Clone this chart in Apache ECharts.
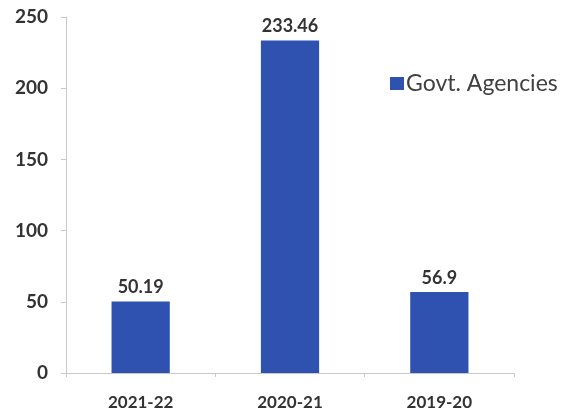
<!DOCTYPE html>
<html>
<head>
<meta charset="utf-8">
<script src="https://cdn.jsdelivr.net/npm/echarts@6/dist/echarts.min.js"></script>
<style>html,body{margin:0;padding:0;background:#fff;}#c{width:564px;height:416px;}</style>
</head>
<body>
<div id="c"></div>
<script>
var categories = ['2021-22', '2020-21', '2019-20'];
var seriesName = 'Govt. Agencies';
var values = [50.19, 233.46, 56.9];
var yTicks = [0, 50, 100, 150, 200, 250];

var chart = echarts.init(document.getElementById('c'));
chart.setOption({
  animation: false,
  backgroundColor: '#ffffff',
  textStyle: { fontFamily: 'Lato, "Open Sans", sans-serif' },
  grid: { left: 66, right: 50, top: 17, bottom: 43, containLabel: false },
  legend: {
    data: [seriesName],
    left: 385, top: 67,
    itemWidth: 14, itemHeight: 13, itemGap: 4,
    icon: 'rect',
    textStyle: { fontSize: 23, color: '#404040', fontFamily: 'Lato, sans-serif', padding: [0, 0, 0, -3] }
  },
  xAxis: {
    type: 'category',
    data: categories,
    axisLine: { lineStyle: { color: '#c8c8c8', width: 1 } },
    axisTick: { show: true, alignWithLabel: false, length: 4, lineStyle: { color: '#c8c8c8' } },
    axisLabel: { fontSize: 17, fontWeight: 'bold', color: '#333', margin: 21 },
    splitLine: { show: false }
  },
  yAxis: {
    type: 'value',
    min: yTicks[0], max: yTicks[yTicks.length - 1], interval: 50,
    axisLine: { show: true, lineStyle: { color: '#c8c8c8' } },
    axisTick: { show: true, length: 5, lineStyle: { color: '#c8c8c8' } },
    axisLabel: { fontSize: 19, fontWeight: 'bold', color: '#333', margin: 18 },
    splitLine: { show: false }
  },
  series: [{
    name: seriesName,
    type: 'bar',
    data: values,
    barWidth: '39%',
    itemStyle: { color: '#2f52b0' },
    label: {
      show: true, position: 'top', distance: 5,
      fontSize: 18, fontWeight: 'bold', color: '#333'
    }
  }]
});
</script>
</body>
</html>
